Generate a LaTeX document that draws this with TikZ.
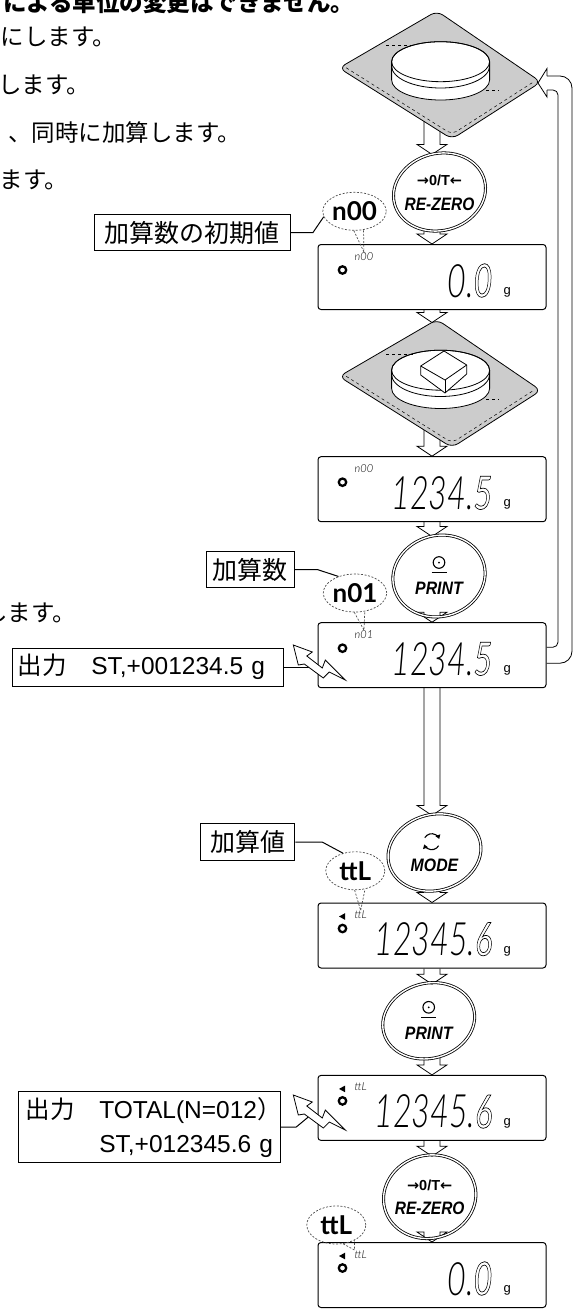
\documentclass[tikz,border=0pt]{standalone}
\usepackage{fontspec}
\usepackage{graphicx}
\setmainfont{Liberation Sans}
\newfontfamily\jpfont{Noto Sans CJK JP}
\newfontfamily\dvfont{DejaVu Sans}
\newfontfamily\segthin{Lato Light Italic}
\newfontfamily\segfull{Lato Italic}
\newfontfamily\segbold{Lato Bold}
\usetikzlibrary{calc,shapes.geometric,arrows.meta,backgrounds}

% last place of a reading, drawn as an outline
\newcommand{\outdigit}[1]{\special{pdf:literal direct 1 Tr 0.7 w}{\segfull #1}\special{pdf:literal direct 0 Tr}}

% hollow arrow from one step down to the next
\newcommand{\flow}[2]{%
  \draw[flow] ($(#1 -| col)+(-8,0)$) -- ($(#2 -| col)+(-8,10)$) -- ++(-7,0)
    -- (#2 -| col) -- ++(15,10) -- ++(-7,0) -- ($(#1 -| col)+(8,0)$);}

% reading on a display
\newcommand{\reading}[3]{%
  \draw[stab] ($(#1.north west)+(25,-26)$) circle[radius=3.7pt];
  \node[seg, anchor=base east] at ($(#1.north west)+(175,-53)$) {\scalebox{0.7}[1]{#2\outdigit{#3}}};
  \node[unit, anchor=base west] at ($(#1.north west)+(186,-50.5)$) {g};}

\tikzset{
  pics/weighpan/.style={code={
    \draw[fill=black!20, line width=0.8pt, rounded corners=7pt] (1,3) -- (-97,-54) -- (16,-125) -- (105,-68) -- cycle;
    \draw[dashed, line width=0.5pt, rounded corners=5pt] (-89.8,-53.8) -- (16,-120.3) -- (97.7,-67.8);
    \draw[fill=white, line width=0.8pt] (-44.4,-47.7) arc[start angle=180, end angle=0, x radius=49pt, y radius=20pt]
      -- (53.6,-66) arc[start angle=0, end angle=-180, x radius=49pt, y radius=20pt] -- cycle;
    \draw[line width=0.8pt] (4.6,-47.7) ellipse[x radius=49pt, y radius=20pt];
    \draw[line width=0.8pt] (-44.4,-52) arc[start angle=180, end angle=360, x radius=49pt, y radius=22pt];
    \draw[dashed, line width=0.5pt] (-50,-31.5) -- (-23,-31.5);
    \draw[dashed, line width=0.5pt] (50,-76.7) -- (63,-76.7);
    \coordinate (-top) at (0,0);
    \coordinate (-lo) at (-4,-100);
    \coordinate (-r) at (102,-69);
  }},
  pics/bolt/.style={code={
    \draw[fill=white, line width=0.8pt] (0,0) -- (19,-7) -- (13.5,-11) -- (29,-23) -- (32,-15) -- (52,-35)
      -- (36,-27) -- (30,-33) -- (11,-19) -- (5,-20) -- cycle;
    \coordinate (-c) at (15,-22);
  }}
}

\begin{document}
\begin{tikzpicture}[x=1pt, y=1pt,
  lcd/.style={draw, fill=white, rounded corners=3pt, minimum width=228pt, minimum height=65pt, inner sep=0, line width=1pt},
  btn/.style={ellipse, draw, double, double distance=1.4pt, line width=0.8pt, minimum width=93pt, inner sep=0, rotate=15},
  key/.style={font=\fontsize{18}{18}\selectfont\bfseries\itshape, inner sep=0},
  keytop/.style={font=\fontsize{14.5}{14.5}\selectfont\bfseries, inner sep=0},
  flow/.style={draw, fill=white, line width=0.8pt},
  lead/.style={line width=1pt},
  tag/.style={draw, line width=1pt, font=\jpfont\fontsize{25}{25}\selectfont, inner sep=0, minimum height=35.5pt},
  outbox/.style={draw, line width=1pt, font=\fontsize{24.5}{34}\selectfont, inner ysep=3pt, align=left},
  body/.style={font=\jpfont\fontsize{23.5}{23.5}\selectfont, inner sep=0},
  bubble/.style={ellipse, draw=black!70, dash pattern=on 2pt off 1.6pt, line width=0.7pt, minimum width=59pt, minimum height=38pt, inner sep=0, font=\segbold\fontsize{26}{26}\selectfont},
  tail/.style={draw=black!70, dash pattern=on 2pt off 1.6pt, line width=0.7pt},
  seg/.style={font=\segthin\fontsize{46}{46}\selectfont, inner sep=0},
  ind/.style={font=\segthin\fontsize{11}{11}\selectfont, inner sep=0},
  unit/.style={font=\fontsize{13}{13}\selectfont, inner sep=0},
  stab/.style={line width=2.3pt}]

\useasboundingbox (0,0) rectangle (573,-1309);
\coordinate (col) at (432,0);

% text cut from the page
\node[body, anchor=base west, font=\jpfont\bfseries\fontsize{23.5}{23.5}\selectfont] at (3,-11.5) {による単位の変更はできません。};
\node[body, anchor=base east] at (116,-45.5) {にします。};
\node[body, anchor=base east] at (90,-93.5) {します。};
\node[body, anchor=base east] at (241,-141.5) {、同時に加算します。};
\node[body, anchor=base east] at (68,-188.5) {ます。};
\node[body, anchor=base east] at (76,-621.5) {します。};

% pans
\pic (pan1) at (436,-14) {weighpan};
\pic (pan2) at (436,-322.5) {weighpan};
\begin{scope}[shift={(pan2-top)}, line width=0.8pt]
  \draw[fill=white, line join=round] (8,-28.5) -- (30.7,-42.5) -- (30.7,-51.5) -- (9,-70.5) -- (-15.3,-52.5) -- (-15.3,-43.5) -- cycle;
  \draw (-15.3,-43.5) -- (9,-57.5) -- (30.7,-42.5);
  \draw (9,-57.5) -- (9,-70.5);
\end{scope}

% displays
\node[lcd] (d1) at (432,-277) {};
\node[lcd] (d2) at (432,-489.2) {};
\node[lcd] (d3) at (432,-655.2) {};
\node[lcd] (d4) at (432,-935.5) {};
\node[lcd] (d5) at (432,-1107.9) {};
\node[lcd] (d6) at (432,-1275) {};

% keys
\node[btn, minimum height=77pt] (rz1) at (439.5,-192) {};
\node[btn, minimum height=81pt] (pr1) at (439,-576) {};
\node[btn, minimum height=76pt, minimum width=94pt] (md) at (434.5,-852.5) {};
\node[btn, minimum height=75pt] (pr2) at (428.7,-1020.8) {};
\node[btn, minimum height=83pt] (rz2) at (429.7,-1196.7) {};

\foreach \k in {rz1,rz2} {
  \node[keytop] at ($(\k)+(0,11.3)$) {{\dvfont →}0/T{\dvfont ←}};
  \node[key] at ($(\k)+(0,-12)$) {\scalebox{0.86}[1]{RE-ZERO}};
}
\foreach \k in {pr1,pr2} {
  \draw[line width=1.1pt] ($(\k)+(0,13.5)$) circle[radius=5.8pt];
  \fill ($(\k)+(0,13.5)$) circle[radius=1pt];
  \draw[line width=1.3pt] ($(\k)+(-7.5,3.5)$) -- ++(15,0);
  \node[key] at ($(\k)+(0,-12)$) {\scalebox{0.88}[1]{PRINT}};
}
\draw[line width=1.1pt, -{Triangle[length=4pt,width=5pt]}] ($(md)+(-2.8,10.8)$) ++(150:8) arc[start angle=150, end angle=20, radius=8pt];
\draw[line width=1.1pt, -{Triangle[length=4pt,width=5pt]}] ($(md)+(-2.8,10.8)$) ++(330:8) arc[start angle=330, end angle=200, radius=8pt];
\node[key] at ($(md)+(0,-12.5)$) {\scalebox{0.88}[1]{MODE}};

% readings
\reading{d1}{0.}{0}
\reading{d2}{1234.}{5}
\reading{d3}{1234.}{5}
\reading{d4}{12345.}{6}
\reading{d5}{12345.}{6}
\reading{d6}{0.}{0}
\node[ind, anchor=base west] (i1) at ($(d1.north west)+(37,-16)$) {n00};
\node[ind, anchor=base west] (i2) at ($(d2.north west)+(37,-16)$) {n00};
\node[ind, anchor=base west] (i3) at ($(d3.north west)+(37,-16)$) {n01};
\node[ind, anchor=base west] (i4) at ($(d4.north west)+(37,-16)$) {ttL};
\node[ind, anchor=base west] (i5) at ($(d5.north west)+(37,-16)$) {ttL};
\node[ind, anchor=base west] (i6) at ($(d6.north west)+(37,-16)$) {ttL};
\foreach \d in {d4,d5,d6}
  \fill ($(\d.north west)+(21.5,-14)$) -- ++(6,3.3) -- ++(0,-6.6) -- cycle;

% steps
\begin{scope}[on background layer]
\flow{pan1-lo}{rz1.north}
\flow{rz1.south}{d1.north}
\flow{d1.south}{pan2-top}
\flow{pan2-lo}{d2.north}
\flow{d2.south}{pr1.north}
\flow{pr1.south}{d3.north}
\flow{d3.south}{md.north}
\flow{md.south}{d4.north}
\flow{d4.south}{pr2.north}
\flow{pr2.south}{d5.north}
\flow{d5.south}{rz2.north}
\flow{rz2.south}{d6.north}
\end{scope}

% back to the pan
\draw[line width=0.8pt, rounded corners=5pt] ($(d3.east)+(0,8)$) -- ++(11.5,0) |- ($(pan1-r)+(9,-7)$);
\draw[line width=0.8pt] ($(pan1-r)+(9,-7)$) -- ++(0,-7) -- (pan1-r) -- ++(9,14.5) -- ++(0,-7.5);
\draw[line width=0.8pt, rounded corners=12pt] ($(pan1-r)+(9,7)$) -| ($(d3.east)+(25.5,-8)$) -- ($(d3.east)+(0,-8)$);

% callouts
\node[tag, minimum width=196pt] (init) at (192,-232.5) {加算数の初期値};
\node[tag, minimum width=88pt] (cnt) at (250,-569.5) {加算数};
\node[tag, minimum width=94.3pt, minimum height=37.4pt] (sum) at (247.8,-842) {加算値};

\node[bubble] (b1) at (354.5,-211.3) {n00};
\node[bubble] (b2) at (355,-593) {n01};
\node[bubble] (b3) at (355.3,-870.8) {ttL};
\node[bubble] (b4) at (336.3,-1225) {ttL};

\draw[lead] (init.east) -- ++(22.5,0) -- (b1.190);
\draw[lead] (cnt.east) -- ++(22.7,0) -- (b2.135);
\draw[lead] (sum.east) -- ++(26.7,0) -- (b3.125);

\draw[tail] (b1.268) -- (i1.north) -- (b1.296);
\draw[tail] (b2.268) -- (i3.north) -- (b2.298);
\draw[tail] (b3.268) -- (i4.north) -- (b3.298);
\draw[tail] (b4.290) -- (i6.north west) -- (b4.320);

% output
\node[outbox, text width=261pt, inner xsep=5pt, minimum height=37.7pt, anchor=west] (out1) at (12.3,-667.2)
  {{\jpfont 出力　}ST,+001234.5 g};
\node[outbox, text width=247.7pt, inner xsep=7pt, minimum height=71pt, anchor=west] (out2) at (18.3,-1127.2)
  {{\jpfont 出力　}TOTAL(N=012{\jpfont ）}\\\hspace*{73.5pt}ST,+012345.6 g};
\pic (z1) at (293.3,-645) {bolt};
\pic (z2) at (293.3,-1095) {bolt};
\begin{scope}[on background layer]
\draw[lead] (out1.east) -- (out1.east -| d3.west);
\draw[lead] (out2.east) -- ++(15,0) -- (z2-c);
\end{scope}

\end{tikzpicture}
\end{document}
